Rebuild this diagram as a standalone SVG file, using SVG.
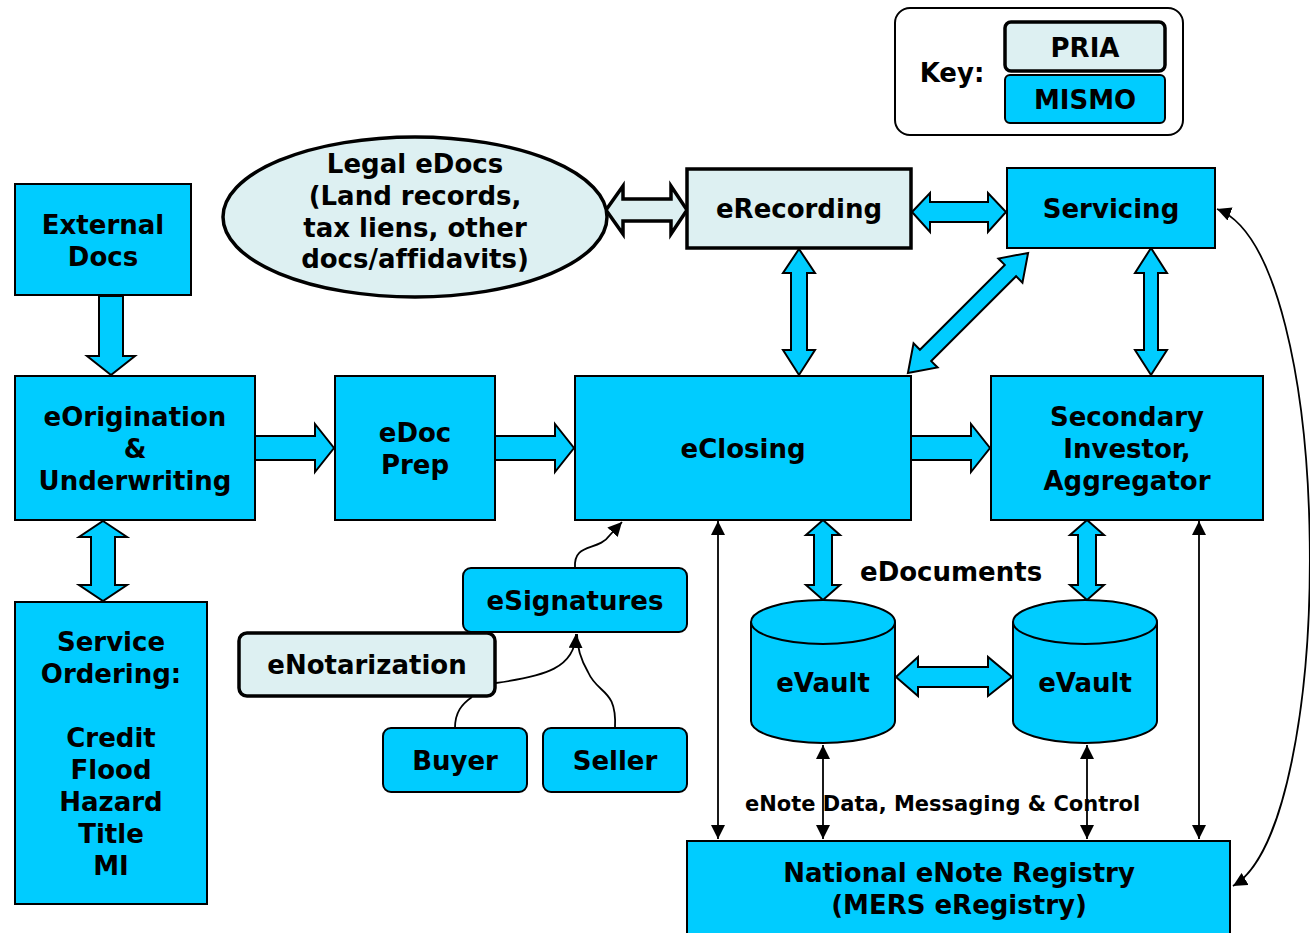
<svg xmlns="http://www.w3.org/2000/svg" width="1310" height="933" viewBox="0 0 1310 933">
<defs>
<style>
.m{fill:#00CCFF;stroke:#000;stroke-width:2}
.p{fill:#DDF0F2;stroke:#000;stroke-width:3.5}
.ba{fill:#00CCFF;stroke:#000;stroke-width:2;stroke-linejoin:miter}
.bl{fill:#DDF0F2;stroke:#000;stroke-width:3.5;stroke-linejoin:miter}
.ln{fill:none;stroke:#000;stroke-width:1.8}
text{font-family:"DejaVu Sans","Verdana",sans-serif;font-weight:bold;font-size:26px;fill:#000;text-anchor:middle;font-variant-ligatures:none}
.s{font-size:21px}
.st{text-anchor:start}
</style>
<marker id="ah2" viewBox="0 0 10 10" refX="10" refY="5" markerWidth="14" markerHeight="14" markerUnits="userSpaceOnUse" orient="auto-start-reverse">
<path d="M0,0 L10,5 L0,10 z" fill="#000"/>
</marker>
</defs>
<rect width="1310" height="933" fill="#fff"/>

<g id="connectors">
<!-- block arrows -->
<polygon class="ba" points="99,296 123,296 123,356 135,356 111,375 87,356 99,356"/>
<polygon class="ba" points="103,521 127,537 115,537 115,585 127,585 103,601 79,585 91,585 91,537 79,537"/>
<polygon class="ba" points="255,436 315,436 315,424 334,448 315,472 315,460 255,460"/>
<polygon class="ba" points="495,436 555,436 555,424 574,448 555,472 555,460 495,460"/>
<polygon class="ba" points="911,436 971,436 971,424 990,448 971,472 971,460 911,460"/>
<polygon class="bl" points="606,210 623,186 623,199 671,199 671,186 687,210 671,234 671,221 623,221 623,234"/>
<polygon class="ba" points="912,212 930,193 930,202 988,202 988,193 1006,212 988,232 988,222 930,222 930,232"/>
<polygon class="ba" points="799,249 815,273 807,273 807,350 815,350 799,375 783,350 791,350 791,273 783,273"/>
<polygon class="ba" points="1151,248 1167,273 1158,273 1158,350 1167,350 1151,375 1135,350 1144,350 1144,273 1135,273"/>
<polygon class="ba" transform="translate(968,313) rotate(-45)" points="-85,0 -60,-17 -60,-8 60,-8 60,-17 85,0 60,17 60,8 -60,8 -60,17"/>
<polygon class="ba" points="823,520 840,535 832,535 832,585 840,585 823,600 806,585 814,585 814,535 806,535"/>
<polygon class="ba" points="1087,520 1104,535 1096,535 1096,585 1104,585 1087,600 1070,585 1078,585 1078,535 1070,535"/>
<polygon class="ba" points="896,677 918,657 918,667 988,667 988,657 1012,677 988,696 988,687 918,687 918,696"/>
<!-- line arrows -->
<line class="ln" x1="718" y1="521" x2="718" y2="839" marker-start="url(#ah2)" marker-end="url(#ah2)"/>
<line class="ln" x1="823" y1="745" x2="823" y2="839" marker-start="url(#ah2)" marker-end="url(#ah2)"/>
<line class="ln" x1="1087" y1="745" x2="1087" y2="839" marker-start="url(#ah2)" marker-end="url(#ah2)"/>
<line class="ln" x1="1199" y1="521" x2="1199" y2="839" marker-start="url(#ah2)" marker-end="url(#ah2)"/>
<path class="ln" d="M1217,209 C1338,255 1338,825 1233,886" marker-start="url(#ah2)" marker-end="url(#ah2)"/>
<path class="ln" d="M575,568 C573,542 598,552 610,535 L622,522" marker-end="url(#ah2)"/>
<path class="ln" d="M496,683 C545,676 575,668 576,634" marker-end="url(#ah2)"/>
<path class="ln" d="M455,728 C455,712 462,704 472,697"/>
<path class="ln" d="M615,728 C617,688 598,695 588,672 C581,660 577,648 577,634"/>
</g>

<g id="key">
<rect x="895" y="8" width="288" height="127" rx="15" fill="#fff" stroke="#000" stroke-width="2"/>
<text x="952" y="82" font-size="24">Key:</text>
</g>
<g id="pria">
<rect class="p" x="1005" y="22" width="160" height="49" rx="6"/>
<text x="1085" y="57" font-size="24">PRIA</text>
</g>
<g id="mismo">
<rect class="m" x="1005" y="75" width="160" height="48" rx="5"/>
<text x="1085" y="109" font-size="24">MISMO</text>
</g>

<g id="legal-edocs">
<ellipse cx="415" cy="217" rx="192" ry="80" fill="#DDF0F2" stroke="#000" stroke-width="3.5"/>
<text x="415" y="173">Legal eDocs</text>
<text x="415" y="205">(Land records,</text>
<text x="415" y="237">tax liens, other</text>
<text x="415" y="268">docs/affidavits)</text>
</g>

<g id="erecording">
<rect class="p" x="687" y="169" width="224" height="79"/>
<text x="799" y="218">eRecording</text>
</g>
<g id="servicing">
<rect class="m" x="1007" y="168" width="208" height="80"/>
<text x="1111" y="218">Servicing</text>
</g>
<g id="external-docs">
<rect class="m" x="15" y="184" width="176" height="111"/>
<text x="103" y="234">External</text>
<text x="103" y="266">Docs</text>
</g>
<g id="eorigination">
<rect class="m" x="15" y="376" width="240" height="144"/>
<text x="135" y="426">eOrigination</text>
<text x="135" y="458">&amp;</text>
<text x="135" y="490">Underwriting</text>
</g>
<g id="service-ordering">
<rect class="m" x="15" y="602" width="192" height="302"/>
<text x="111" y="651">Service</text>
<text x="111" y="683">Ordering:</text>
<text x="111" y="747">Credit</text>
<text x="111" y="779">Flood</text>
<text x="111" y="811">Hazard</text>
<text x="111" y="843">Title</text>
<text x="111" y="875">MI</text>
</g>
<g id="edoc-prep">
<rect class="m" x="335" y="376" width="160" height="144"/>
<text x="415" y="442">eDoc</text>
<text x="415" y="474">Prep</text>
</g>
<g id="eclosing">
<rect class="m" x="575" y="376" width="336" height="144"/>
<text x="743" y="458">eClosing</text>
</g>
<g id="secondary">
<rect class="m" x="991" y="376" width="272" height="144"/>
<text x="1127" y="426">Secondary</text>
<text x="1127" y="458">Investor,</text>
<text x="1127" y="490">Aggregator</text>
</g>
<g id="esignatures">
<rect class="m" x="463" y="568" width="224" height="64" rx="8"/>
<text x="575" y="610">eSignatures</text>
</g>
<g id="enotarization">
<rect class="p" x="239" y="633" width="256" height="63" rx="8"/>
<text x="367" y="674">eNotarization</text>
</g>
<g id="buyer">
<rect class="m" x="383" y="728" width="144" height="64" rx="8"/>
<text x="455" y="770">Buyer</text>
</g>
<g id="seller">
<rect class="m" x="543" y="728" width="144" height="64" rx="8"/>
<text x="615" y="770">Seller</text>
</g>
<g id="evault-1">
<path class="m" d="M751,622 L751,721 A72,22 0 0 0 895,721 L895,622 A72,22 0 0 0 751,622 Z"/>
<path d="M751,622 A72,22 0 0 0 895,622" fill="none" stroke="#000" stroke-width="2"/>
<text x="823" y="692">eVault</text>
</g>
<g id="evault-2">
<path class="m" d="M1013,622 L1013,721 A72,22 0 0 0 1157,721 L1157,622 A72,22 0 0 0 1013,622 Z"/>
<path d="M1013,622 A72,22 0 0 0 1157,622" fill="none" stroke="#000" stroke-width="2"/>
<text x="1085" y="692">eVault</text>
</g>
<g id="registry">
<rect class="m" x="687" y="841" width="543" height="100"/>
<text x="959" y="882">National eNote Registry</text>
<text x="959" y="914">(MERS eRegistry)</text>
</g>
<g id="labels">
<text class="st" x="860" y="581">eDocuments</text>
<text class="s st" x="745" y="811">eNote Data, Messaging &amp; Control</text>
</g>
</svg>
